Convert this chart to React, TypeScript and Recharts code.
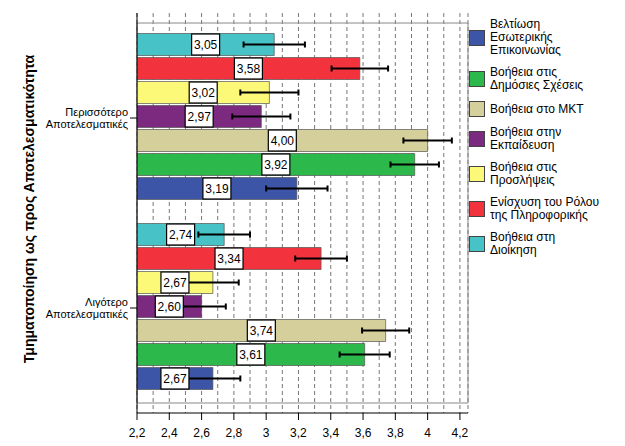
import React from 'react';
import {
  BarChart,
  Bar,
  XAxis,
  YAxis,
  CartesianGrid,
  ErrorBar,
  LabelList,
  ReferenceArea
} from 'recharts';

const categories = ['Περισσότερο Αποτελεσματικές', 'Λιγότερο Αποτελεσματικές'];

const xTicks = [2.2, 2.3, 2.4, 2.5, 2.6, 2.7, 2.8, 2.9, 3, 3.1, 3.2, 3.3, 3.4, 3.5, 3.6, 3.7, 3.8, 3.9, 4, 4.1, 4.2];
const majorTicks = [2.2, 2.4, 2.6, 2.8, 3, 3.2, 3.4, 3.6, 3.8, 4, 4.2];

// mean per category, and half-width of the error bar
const internalComm = [3.19, 2.67];
const internalCommErr = [0.19, 0.17];
const publicRelations = [3.92, 3.61];
const publicRelationsErr = [0.15, 0.155];
const marketing = [4.0, 3.74];
const marketingErr = [0.15, 0.146];
const training = [2.97, 2.6];
const trainingErr = [0.18, 0.15];
const hiring = [3.02, 2.67];
const hiringErr = [0.18, 0.16];
const itRole = [3.58, 3.34];
const itRoleErr = [0.175, 0.16];
const management = [3.05, 2.74];
const managementErr = [0.19, 0.16];

// legend order
const series = [
  { key: 'internalComm', name: 'Βελτίωση Εσωτερικής Επικοινωνίας', lines: ['Βελτίωση', 'Εσωτερικής', 'Επικοινωνίας'], color: '#3D55A6', values: internalComm, err: internalCommErr },
  { key: 'publicRelations', name: 'Βοήθεια στις Δημόσιες Σχέσεις', lines: ['Βοήθεια στις', 'Δημόσιες Σχέσεις'], color: '#2DB84B', values: publicRelations, err: publicRelationsErr },
  { key: 'marketing', name: 'Βοήθεια στο ΜΚΤ', lines: ['Βοήθεια στο ΜΚΤ'], color: '#D4CF9B', values: marketing, err: marketingErr },
  { key: 'training', name: 'Βοήθεια στην Εκπαίδευση', lines: ['Βοήθεια στην', 'Εκπαίδευση'], color: '#7B2A7F', values: training, err: trainingErr },
  { key: 'hiring', name: 'Βοήθεια στις Προσλήψεις', lines: ['Βοήθεια στις', 'Προσλήψεις'], color: '#FBF977', values: hiring, err: hiringErr },
  { key: 'itRole', name: 'Ενίσχυση του Ρόλου της Πληροφορικής', lines: ['Ενίσχυση του Ρόλου', 'της Πληροφορικής'], color: '#F2333D', values: itRole, err: itRoleErr },
  { key: 'management', name: 'Βοήθεια στη Διοίκηση', lines: ['Βοήθεια στη', 'Διοίκηση'], color: '#47C2C6', values: management, err: managementErr }
];

const data = categories.map((cat, i) => {
  const row: Record<string, string | number> = { cat };
  series.forEach(s => {
    row[s.key] = s.values[i];
    row[s.key + 'Err'] = s.err[i];
  });
  return row;
});

const FONT = '"Liberation Sans", Arial, sans-serif';
const fmt = (v: number) => String(v).replace('.', ',');

const XTick = (props: any) => {
  const { x, y, payload } = props;
  if (!majorTicks.includes(payload.value)) return null;
  return (
    <g>
      <line x1={x} y1={y - 7} x2={x} y2={y} stroke="#000" />
      <text x={x} y={y + 17} textAnchor="middle" fontSize={12} fontFamily={FONT} fill="#000">
        {fmt(payload.value)}
      </text>
    </g>
  );
};

const YTick = (props: any) => {
  const { x, y, payload } = props;
  const words = String(payload.value).split(' ');
  return (
    <text x={x} y={y - 2} textAnchor="end" fontSize={11} fontFamily={FONT} fill="#000">
      {words.map((w, i) => (
        <tspan key={i} x={x} dy={i === 0 ? 0 : 12}>{w}</tspan>
      ))}
    </text>
  );
};

const ValueBox = (props: any) => {
  const { x, y, width, height, value } = props;
  const cx = x + width / 2;
  const cy = y + height / 2;
  return (
    <g>
      <rect x={cx - 14} y={cy - 10.5} width={28} height={21} fill="#fff" stroke="#000" strokeWidth={1.2} />
      <text x={cx} y={cy + 4.5} textAnchor="middle" fontSize={12} fontFamily={FONT} fill="#000">
        {Number(value).toFixed(2).replace('.', ',')}
      </text>
    </g>
  );
};

export default function App() {
  // bars are drawn top to bottom in reverse legend order
  const drawOrder = [...series].reverse();

  return (
    <div style={{ position: 'absolute', left: 0, top: 0, width: 625, height: 446, background: '#fff', fontFamily: FONT }}>
      <BarChart
        width={625}
        height={446}
        data={data}
        layout="vertical"
        margin={{ top: 13, right: 157, bottom: 0, left: 0 }}
        barCategoryGap={10.5}
        barGap={2}
      >
        <CartesianGrid horizontal={false} stroke="#777" strokeDasharray="4 3" />
        <ReferenceArea x1={2.2} x2={4.25} fill="none" stroke="#888" strokeWidth={1} />
        <XAxis
          type="number"
          domain={[2.2, 4.25]}
          ticks={xTicks}
          interval={0}
          height={33}
          tickSize={7}
          tickMargin={0}
          tickLine={false}
          axisLine={{ stroke: '#000' }}
          tick={<XTick />}
          allowDataOverflow
        />
        <YAxis
          type="category"
          dataKey="cat"
          width={137}
          padding={{ top: 10, bottom: 10 }}
          tickSize={7}
          tickMargin={2}
          tickLine={{ stroke: '#000' }}
          axisLine={{ stroke: '#000' }}
          tick={<YTick />}
        />
        {drawOrder.map(s => (
          <Bar
            key={s.key}
            dataKey={s.key}
            name={s.name}
            fill={s.color}
            stroke="#555"
            strokeOpacity={0.7}
            strokeWidth={1}
            isAnimationActive={false}
          >
            <ErrorBar dataKey={s.key + 'Err'} direction="x" width={3} stroke="#000" strokeWidth={2} />
            <LabelList dataKey={s.key} content={<ValueBox />} />
          </Bar>
        ))}
      </BarChart>

      <div
        style={{
          position: 'absolute',
          left: 29 - 200,
          top: 209 - 8,
          width: 400,
          height: 16,
          lineHeight: '16px',
          textAlign: 'center',
          fontSize: 14,
          fontWeight: 'bold',
          transform: 'rotate(-90deg)',
          transformOrigin: 'center'
        }}
      >
        Τμηματοποίηση ως προς Αποτελεσματικότητα
      </div>

      <div style={{ position: 'absolute', left: 469, top: 18, display: 'flex', flexDirection: 'column', gap: 9 }}>
        {series.map(s => (
          <div key={s.key} style={{ display: 'flex', alignItems: 'center' }}>
            <div style={{ width: 14, height: 14, background: s.color, border: '1px solid #444', flexShrink: 0 }} />
            <div style={{ marginLeft: 5, fontSize: 12, lineHeight: '13px', color: '#000' }}>
              {s.lines.map((l, i) => (
                <div key={i}>{l}</div>
              ))}
            </div>
          </div>
        ))}
      </div>
    </div>
  );
}
